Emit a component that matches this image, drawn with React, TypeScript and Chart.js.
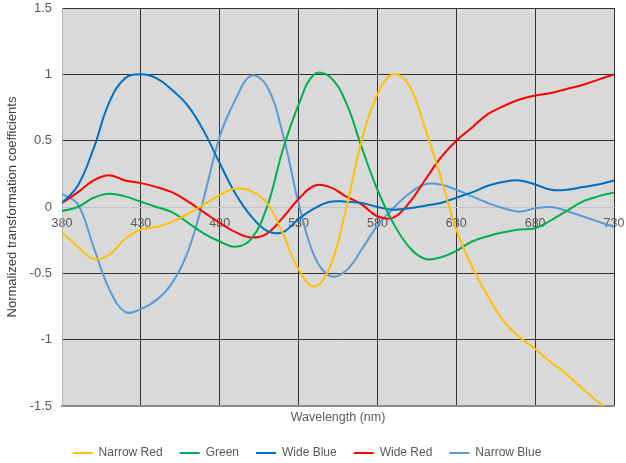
import React, { useEffect, useRef } from 'react';
import { Chart, registerables } from 'chart.js';

Chart.register(...registerables);

// Wavelength samples (nm)
const wavelengths = [
  380, 390, 400, 410, 420, 430, 440, 450, 460, 470, 480, 490,
  500, 510, 520, 530, 540, 550, 560, 570, 580, 590, 600, 610,
  620, 630, 640, 650, 660, 670, 680, 690, 700, 710, 720, 730,
];

// Normalized transformation coefficients per channel
const narrowRed = [
  -0.19, -0.3, -0.39, -0.36, -0.24, -0.17, -0.15, -0.11, -0.05, 0.02, 0.09, 0.14,
  0.12, 0.03, -0.2, -0.47, -0.6, -0.45, -0.02, 0.5, 0.85, 1.0, 0.92, 0.6,
  0.23, -0.17, -0.45, -0.67, -0.86, -0.98, -1.07, -1.17, -1.26, -1.37, -1.47, -1.57,
];
const green = [
  -0.03, 0.0, 0.07, 0.1, 0.08, 0.04, 0.0, -0.04, -0.12, -0.2, -0.26, -0.3,
  -0.24, 0.0, 0.43, 0.77, 1.0, 0.98, 0.79, 0.45, 0.13, -0.12, -0.3, -0.39,
  -0.38, -0.33, -0.26, -0.22, -0.19, -0.17, -0.16, -0.1, -0.03, 0.04, 0.08, 0.11,
];
const wideBlue = [
  0.03, 0.16, 0.44, 0.79, 0.97, 1.0, 0.97, 0.88, 0.76, 0.57, 0.33, 0.1,
  -0.07, -0.18, -0.19, -0.09, -0.01, 0.04, 0.04, 0.03, 0.0, -0.02, -0.01, 0.01,
  0.03, 0.07, 0.11, 0.16, 0.19, 0.2, 0.17, 0.13, 0.13, 0.15, 0.17, 0.2,
];
const wideRed = [
  0.03, 0.11, 0.2, 0.24, 0.2, 0.18, 0.15, 0.11, 0.04, -0.04, -0.12, -0.19,
  -0.23, -0.2, -0.08, 0.06, 0.16, 0.15, 0.08, 0.02, -0.07, -0.08, 0.03, 0.2,
  0.37, 0.5, 0.6, 0.7, 0.76, 0.81, 0.84, 0.86, 0.89, 0.92, 0.96, 1.0,
];
const narrowBlue = [
  0.1, 0.02, -0.3, -0.62, -0.79, -0.77, -0.7, -0.57, -0.33, 0.07, 0.53, 0.81,
  0.99, 0.91, 0.55, 0.03, -0.37, -0.52, -0.48, -0.32, -0.14, -0.01, 0.1, 0.17,
  0.17, 0.13, 0.08, 0.03, -0.01, -0.035, -0.01, 0.0, -0.03, -0.07, -0.11, -0.15,
];

const xTicks = [380, 430, 480, 530, 580, 630, 680, 730];
const yTicks = [-1.5, -1, -0.5, 0, 0.5, 1, 1.5];

const seriesNames = ['Narrow Red', 'Green', 'Wide Blue', 'Wide Red', 'Narrow Blue'];
const seriesValues = [narrowRed, green, wideBlue, wideRed, narrowBlue];
const seriesColors = ['#ffc000', '#00b050', '#0070c0', '#ff0000', '#5b9bd5'];

const FONT = "'Liberation Sans', Arial, sans-serif";
const TEXT = '#595959';

const plotBackground = {
  id: 'plotBackground',
  beforeDraw(chart: any) {
    const { ctx, chartArea: a } = chart;
    ctx.save();
    ctx.fillStyle = '#d9d9d9';
    ctx.fillRect(a.left, a.top, a.right - a.left, a.bottom - a.top);
    ctx.restore();
  },
};

export default function App() {
  const canvasRef = useRef<HTMLCanvasElement>(null);

  useEffect(() => {
    const canvas = canvasRef.current;
    if (!canvas) return;
    Chart.defaults.font.family = FONT;

    const chart = new Chart(canvas, {
      type: 'line',
      data: {
        datasets: seriesNames.map((name, i) => ({
          label: name,
          data: wavelengths.map((w, j) => ({ x: w, y: seriesValues[i][j] })),
          borderColor: seriesColors[i],
          backgroundColor: seriesColors[i],
          borderWidth: 2,
          pointRadius: 0,
          pointHoverRadius: 0,
          tension: 0.4,
          fill: false,
          xAxisID: 'x',
          yAxisID: 'y',
        })),
      },
      options: {
        responsive: false,
        animation: false,
        events: [],
        layout: { padding: { left: 0, right: 12, top: 8, bottom: 0 } },
        scales: {
          x: {
            type: 'linear',
            min: 380,
            max: 730,
            position: { y: 0 } as any,
            afterBuildTicks: (s: any) => {
              s.ticks = xTicks.map((v) => ({ value: v }));
            },
            ticks: {
              font: { size: 12.5 },
              color: TEXT,
              padding: 0,
              maxRotation: 0,
              autoSkip: false,
            },
            grid: {
              drawTicks: true,
              tickLength: 9,
              tickColor: 'rgba(0,0,0,0)',
              color: (c: any) => (c.index === 0 ? '#b4b4b4' : '#333333'),
              lineWidth: 1,
            },
            border: { color: '#c4c4c4', width: 1 },
          },
          x2: {
            type: 'linear',
            min: 380,
            max: 730,
            position: 'bottom',
            afterFit: (s: any) => {
              s.height = 24;
            },
            ticks: { display: false },
            grid: { display: false },
            border: { color: '#8c8c8c', width: 2 },
            title: {
              display: true,
              text: 'Wavelength (nm)',
              font: { size: 12.5 },
              color: TEXT,
              padding: { top: 0, bottom: 5 },
            },
          },
          y: {
            type: 'linear',
            min: -1.5,
            max: 1.5,
            afterBuildTicks: (s: any) => {
              s.ticks = yTicks.map((v) => ({ value: v }));
            },
            afterFit: (s: any) => {
              s.width = 62;
            },
            ticks: {
              font: { size: 13 },
              color: TEXT,
              padding: 0,
              callback: (v: any) => String(v),
            },
            grid: {
              drawTicks: true,
              tickLength: 10,
              tickColor: 'rgba(0,0,0,0)',
              color: (c: any) => {
                const v = c.tick && c.tick.value;
                if (v === 0) return '#c4c4c4';
                if (v === -1.5) return 'rgba(0,0,0,0)';
                return '#333333';
              },
              lineWidth: 1,
            },
            border: { color: '#b4b4b4', width: 1 },
            title: {
              display: true,
              text: 'Normalized transformation coefficients',
              font: { size: 13 },
              color: '#404040',
              padding: { top: 5, bottom: 0 },
            },
          },
        },
        plugins: {
          legend: {
            position: 'bottom',
            maxHeight: 33,
            labels: {
              usePointStyle: true,
              pointStyle: 'line',
              pointStyleWidth: 20,
              font: { size: 12 },
              color: TEXT,
              padding: 17,
            },
          },
          tooltip: { enabled: false },
        },
      },
      plugins: [plotBackground],
    } as any);

    return () => chart.destroy();
  }, []);

  return (
    <div style={{ position: 'fixed', left: 0, top: 0, width: 626, height: 463, background: '#ffffff' }}>
      <canvas ref={canvasRef} width={626} height={463} style={{ display: 'block', width: 626, height: 463 }} />
    </div>
  );
}
